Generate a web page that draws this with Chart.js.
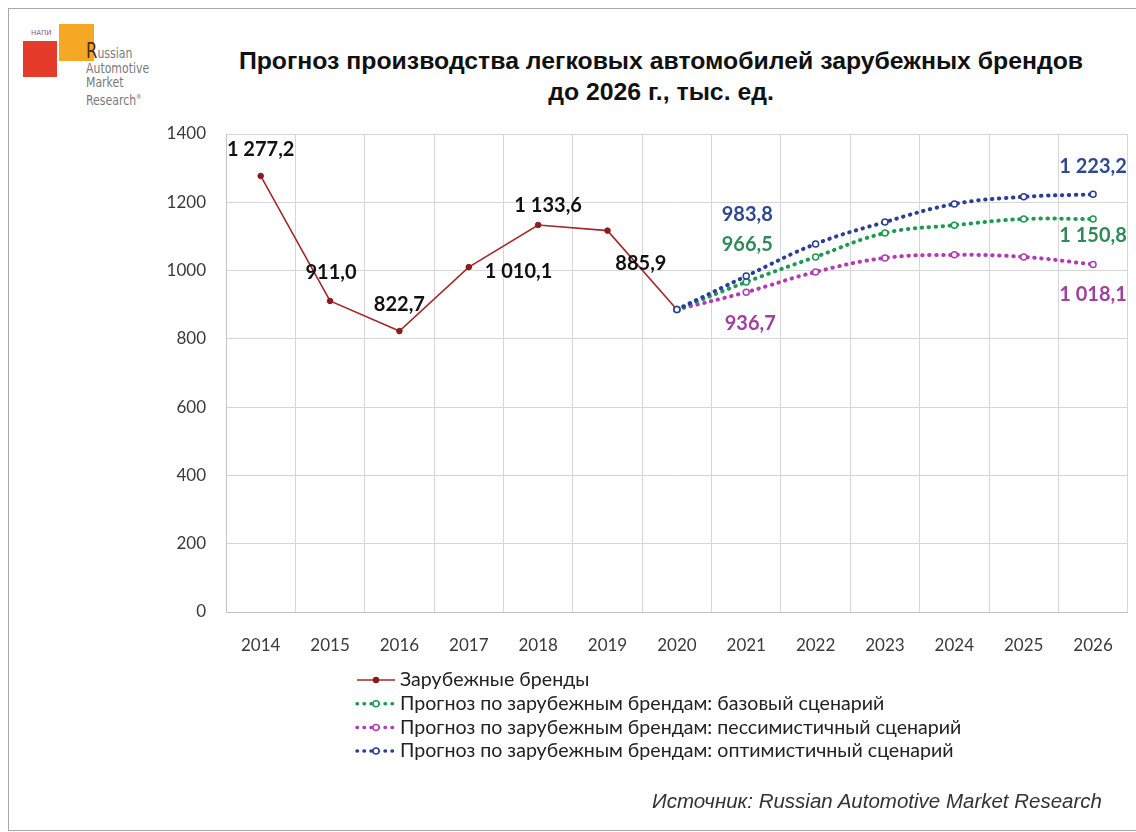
<!DOCTYPE html>
<html>
<head>
<meta charset="utf-8">
<script src="https://cdn.jsdelivr.net/npm/chart.js@4.4.1/dist/chart.umd.min.js"></script>
<style>
  html, body { margin: 0; padding: 0; background: #fff; overflow: hidden; }
  body { width: 1136px; height: 832px; position: relative; }
  #frame { position: absolute; left: 8px; top: 8px; width: 1160px; height: 821px; border: 1px solid #a8a8a8; border-right: none; }
  #chart { position: absolute; left: 0; top: 0; }
  .title { position: absolute; left: 161px; top: 45px; width: 1000px; text-align: center;
    font: bold 24.8px "Liberation Sans", Arial, sans-serif; line-height: 31px; color: #111; }
  .source { position: absolute; right: 34px; top: 789px; font: italic 20.5px "Liberation Sans", Arial, sans-serif; color: #333; }
  .logo-red { position: absolute; left: 23px; top: 41px; width: 34px; height: 36px; background: #e53b2a; }
  .logo-orange { position: absolute; left: 59px; top: 24px; width: 35px; height: 37px; background: #f4a823; }
  .logo-napi { position: absolute; left: 31px; top: 29px; font: 7px "DejaVu Sans", sans-serif; color: #8a5a8a; }
  .logo-text { position: absolute; left: 86px; top: 44px; font: 14px "DejaVu Sans", sans-serif;
    line-height: 14.5px; color: #7a7a7a; transform: scaleX(0.78); transform-origin: left top; }
  .logo-text b { font-size: 21px; color: #4a2e12; font-weight: normal; }
</style>
</head>
<body>
<div id="frame"></div>
<div class="logo-red"></div>
<div class="logo-orange"></div>
<div class="logo-napi">НАПИ</div>
<div class="logo-text"><b>R</b>ussian<br>Automotive<br>Market<br>Research<sup style="font-size:7px">®</sup></div>
<div class="title">Прогноз производства легковых автомобилей зарубежных брендов<br>до 2026 г., тыс. ед.</div>
<canvas id="chart" width="1136" height="832"></canvas>
<div class="source">Источник: Russian Automotive Market Research</div>
<script>
// данные
const years = ['2014', '2015', '2016', '2017', '2018', '2019', '2020', '2021', '2022', '2023', '2024', '2025', '2026'];
const actualValues = [1277.2, 911.0, 822.7, 1010.1, 1133.6, 1117.0, 885.9, null, null, null, null, null, null];
const baseValues = [null, null, null, null, null, null, 885.9, 966.5, 1040.0, 1110.0, 1133.0, 1151.0, 1150.8];
const pessimisticValues = [null, null, null, null, null, null, 885.9, 936.7, 996.0, 1037.0, 1046.0, 1040.0, 1018.1];
const optimisticValues = [null, null, null, null, null, null, 885.9, 983.8, 1078.0, 1142.0, 1195.0, 1216.0, 1223.2];
const yTicks = [0, 200, 400, 600, 800, 1000, 1200, 1400];

const seriesNames = [
    'Зарубежные бренды',
    'Прогноз по зарубежным брендам: базовый сценарий',
    'Прогноз по зарубежным брендам: пессимистичный сценарий',
    'Прогноз по зарубежным брендам: оптимистичный сценарий'
];

// подписи значений: какие точки подписывать и куда сдвигать
const valueLabels = [
    { ds: 0, i: 0, dx: 0, dy: -26 },
    { ds: 0, i: 1, dx: 1, dy: -28 },
    { ds: 0, i: 2, dx: 0, dy: -27 },
    { ds: 0, i: 3, dx: 16, dy: 4, align: 'left' },
    { ds: 0, i: 4, dx: 10, dy: -19 },
    { ds: 0, i: 6, dx: -36, dy: -46 },
    { ds: 3, i: 7, dx: 1, dy: -62 },
    { ds: 1, i: 7, dx: 1, dy: -37 },
    { ds: 2, i: 7, dx: 4, dy: 31 },
    { ds: 3, i: 12, dx: 0, dy: -28 },
    { ds: 1, i: 12, dx: 0, dy: 16 },
    { ds: 2, i: 12, dx: 0, dy: 30 }
];

const labelColors = ['#111111', '#2e8b57', '#a0409f', '#2f4a92'];

function fmt(v) {
    const s = v.toFixed(1).replace('.', ',');
    const parts = s.split(',');
    const intPart = parts[0].replace(/\B(?=(\d{3})+(?!\d))/g, ' ');
    return intPart + ',' + parts[1];
}

const dotted = (color, order, data, label) => ({
    label: label,
    data: data,
    borderColor: color,
    backgroundColor: '#ffffff',
    borderWidth: 4,
    borderDash: [0.5, 6.5],
    borderCapStyle: 'round',
    tension: 0.4,
    pointRadius: 3,
    pointBorderWidth: 1.5,
    pointBorderColor: color,
    pointBackgroundColor: '#ffffff',
    order: order,
    spanGaps: false
});

// подписи значений
const valueLabelPlugin = {
    id: 'valueLabels',
    afterDatasetsDraw(chart) {
        const ctx = chart.ctx;
        ctx.save();
        ctx.font = 'bold 20px Lato, "Open Sans", sans-serif';
        ctx.textBaseline = 'middle';
        valueLabels.forEach(l => {
            const meta = chart.getDatasetMeta(l.ds);
            const pt = meta.data[l.i];
            const v = chart.data.datasets[l.ds].data[l.i];
            ctx.fillStyle = labelColors[l.ds];
            ctx.textAlign = l.align || 'center';
            ctx.fillText(fmt(v), pt.x + l.dx, pt.y + l.dy);
        });
        ctx.restore();
    }
};

// легенда внизу, в столбик
const legendPlugin = {
    id: 'columnLegend',
    afterDraw(chart) {
        const ctx = chart.ctx;
        ctx.save();
        chart.data.datasets.forEach((ds, k) => {
            const y = 680 + k * 23.7;
            ctx.strokeStyle = ds.borderColor;
            ctx.lineCap = ds.borderCapStyle || 'butt';
            ctx.setLineDash(ds.borderDash || []);
            ctx.lineWidth = k === 0 ? 1.5 : 3.5;
            ctx.beginPath();
            ctx.moveTo(357, y);
            ctx.lineTo(395, y);
            ctx.stroke();
            ctx.setLineDash([]);
            ctx.beginPath();
            ctx.arc(376, y, k === 0 ? 2.5 : 3, 0, Math.PI * 2);
            ctx.fillStyle = ds.pointBackgroundColor;
            ctx.fill();
            ctx.lineWidth = 1.5;
            ctx.strokeStyle = ds.pointBorderColor;
            ctx.stroke();
            ctx.fillStyle = '#222';
            ctx.font = '19.6px Lato, "Open Sans", sans-serif';
            ctx.textBaseline = 'middle';
            ctx.textAlign = 'left';
            ctx.fillText(ds.label, 400, y);
        });
        ctx.restore();
    }
};

const ctx = document.getElementById('chart').getContext('2d');
const chart = new Chart(ctx, {
    type: 'line',
    data: {
        labels: years,
        datasets: [
            {
                label: seriesNames[0],
                data: actualValues,
                borderColor: '#a3292a',
                backgroundColor: '#8b1c1c',
                borderWidth: 1.6,
                tension: 0,
                pointRadius: 2.8,
                pointBorderWidth: 1,
                pointBorderColor: '#8b1c1c',
                pointBackgroundColor: '#8b1c1c',
                order: 4
            },
            dotted('#1f9a55', 2, baseValues, seriesNames[1]),
            dotted('#b13db3', 3, pessimisticValues, seriesNames[2]),
            dotted('#2b3f96', 1, optimisticValues, seriesNames[3])
        ]
    },
    options: {
        responsive: false,
        animation: false,
        events: [],
        layout: { padding: { top: 134, left: 0, right: 0, bottom: 170 } },
        plugins: {
            legend: { display: false },
            title: { display: false },
            tooltip: { enabled: false }
        },
        scales: {
            x: {
                offset: true,
                grid: { offset: true, color: '#d6d6d6', drawTicks: false },
                border: { color: '#c4c4c4' },
                ticks: { color: '#3a3a3a', padding: 23, font: { family: 'Lato', size: 17 } },
                afterFit(scale) { scale.height = 50; }
            },
            y: {
                min: 0,
                max: 1400,
                afterBuildTicks(scale) { scale.ticks = yTicks.map(v => ({ value: v })); },
                grid: { color: '#d6d6d6', drawTicks: false },
                border: { color: '#c4c4c4' },
                ticks: {
                    color: '#3a3a3a',
                    padding: 20,
                    font: { family: 'Lato', size: 17 },
                    callback: v => String(v)
                },
                afterFit(scale) { scale.width = 226; }
            }
        }
    },
    plugins: [valueLabelPlugin, legendPlugin]
});
</script>
</body>
</html>
